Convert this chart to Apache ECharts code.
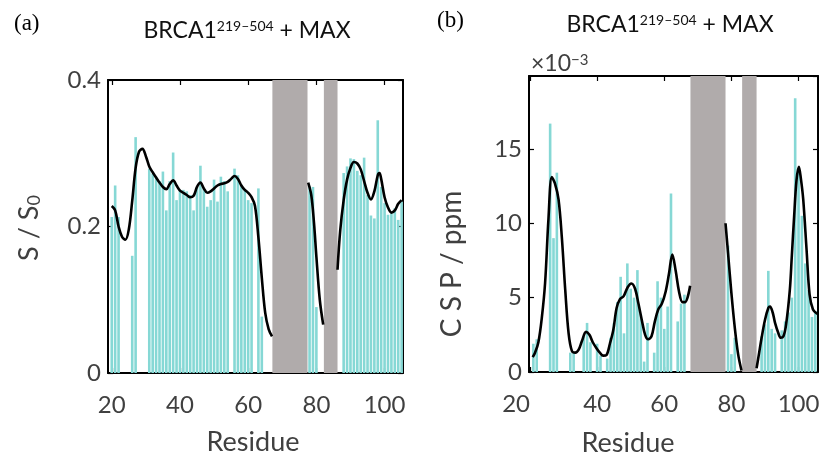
<!DOCTYPE html>
<html><head><meta charset="utf-8">
<script src="https://cdn.jsdelivr.net/npm/echarts@6/dist/echarts.min.js"></script>
<style>html,body{margin:0;padding:0;background:#fff}#c{width:824px;height:458px}</style>
</head><body><div id="c"></div>
<script>
// ---------- data ----------
const xTicks = [20, 40, 60, 80, 100];
// panel (a): S/S0 per residue
const resA = [20,21,22,26,27,31,32,33,34,35,36,37,38,39,40,41,42,43,44,45,46,47,48,49,50,51,52,53,54,56,57,58,59,60,61,63,64,78,79,80,88,89,90,91,92,93,94,95,96,97,98,99,100,101,102,103,104,105];
const valA = [0.213,0.256,0.213,0.160,0.322,0.279,0.272,0.268,0.262,0.275,0.222,0.262,0.301,0.236,0.250,0.250,0.248,0.243,0.222,0.254,0.283,0.252,0.227,0.236,0.264,0.234,0.268,0.262,0.248,0.279,0.270,0.257,0.250,0.236,0.232,0.252,0.077,0.255,0.254,0.090,0.273,0.282,0.293,0.292,0.276,0.270,0.294,0.243,0.215,0.211,0.345,0.254,0.232,0.216,0.218,0.225,0.209,0.234];
// smoothed profile (a), three segments
const curveA1 = [[20,0.228],[21,0.222],[22,0.200],[23,0.186],[24,0.182],[25,0.196],[26,0.235],[27,0.280],[28,0.302],[29,0.306],[30,0.296],[31,0.282],[32,0.274],[33,0.267],[34,0.260],[35,0.254],[36,0.251],[37,0.258],[38,0.263],[39,0.256],[40,0.249],[41,0.246],[42,0.243],[43,0.240],[44,0.242],[45,0.254],[46,0.260],[47,0.252],[48,0.246],[49,0.248],[50,0.252],[51,0.256],[52,0.258],[53,0.259],[54,0.261],[55,0.265],[56,0.269],[57,0.265],[58,0.256],[59,0.250],[60,0.246],[61,0.240],[62,0.228],[63,0.185],[64,0.130],[65,0.082],[66,0.060],[67,0.050]];
const curveA2 = [[77.6,0.260],[78.5,0.243],[79.3,0.205],[80,0.159],[81,0.100],[82,0.066]];
const curveA3 = [[86.2,0.141],[87,0.195],[88,0.236],[89,0.264],[90,0.280],[91,0.288],[92,0.286],[93,0.278],[94,0.262],[95,0.246],[96,0.237],[97,0.248],[98,0.270],[98.5,0.273],[99,0.265],[100,0.240],[101,0.226],[102,0.219],[103,0.222],[104,0.231],[105,0.236]];
const grayA = [[67.1,77.4],[82.2,86.2]];

// panel (b): CSP (x10^-3 ppm) per residue
const resB = [21,22,26,27,28,32,33,36,37,38,40,41,43,44,45,46,47,48,49,50,51,52,53,54,55,57,58,59,60,61,62,64,65,66,79,80,81,89,90,91,92,93,95,96,97,98,99,100,101,102,103,104,105];
const valB = [1.9,2.2,16.7,9.0,13.4,1.3,1.3,2.4,3.3,2.0,1.9,1.1,0.9,2.3,3.3,4.7,6.4,2.6,7.3,5.6,5.0,6.85,3.9,0.7,3.3,1.3,6.1,5.0,2.9,4.4,12.0,3.4,4.6,5.2,8.5,1.2,2.3,2.4,3.2,6.8,2.9,2.6,2.8,3.4,4.0,5.0,18.4,13.5,10.5,7.3,5.5,3.7,4.1];
const curveB1 = [[20.8,1.0],[21.5,1.3],[22.5,2.0],[23.5,3.6],[24.5,6.0],[25.5,10.3],[26.5,13.1],[27.4,12.7],[28.5,11.6],[29.5,9.0],[30.5,5.5],[31.5,2.6],[32.5,1.4],[33.5,1.3],[34.5,1.5],[35.5,2.1],[36.7,2.7],[37.7,2.5],[38.7,2.0],[39.8,1.6],[40.8,1.3],[41.8,1.1],[42.8,1.15],[43.8,1.9],[44.8,2.8],[45.8,4.3],[46.8,4.9],[47.9,5.1],[49.1,5.7],[50.2,5.95],[51.3,5.6],[52.3,4.6],[53.3,3.5],[54.3,2.5],[55.2,2.2],[56.2,2.4],[57.2,3.4],[58.2,4.2],[59.3,4.6],[60.4,5.4],[61.4,6.6],[62.4,7.9],[63.4,6.8],[64.4,5.4],[65.4,4.7],[66.2,4.7],[67.7,5.8]];
const curveB2 = [[78.25,10.0],[79,8.0],[80,5.3],[81,3.0],[82,1.2],[83,0.1]];
const curveB3 = [[87.5,0.25],[88.2,1.2],[89,2.3],[90,3.5],[91,4.3],[91.5,4.4],[92.3,4.0],[93,3.3],[94,2.6],[94.7,2.3],[95.5,2.4],[96.3,3.2],[97.4,5.5],[98,7.8],[98.7,10.5],[99.4,12.9],[100.1,13.8],[100.7,13.0],[101.4,11.6],[102.4,8.2],[103.3,5.2],[104.3,4.2],[105.6,3.9]];
const grayB = [[67.8,78.25],[83.2,87.5]];

// ---------- chart ----------
const FONT = 'Lato';
const LBL = '#404040';
const BAR = '#86d8d5';
const GRAY = '#b0abab';
const chart = echarts.init(document.getElementById('c'), null, {renderer: 'canvas'});

function xAx(grid, min, max, pos, labels, alignMin) {
  const lab = {show: labels, customValues: xTicks, fontSize: 24, color: LBL, margin: 20, fontFamily: FONT};
  if (alignMin) lab.alignMinLabel = alignMin;
  return {
    type: 'value', gridIndex: grid, min: min, max: max, position: pos,
    axisLine: {show: true, onZero: false, lineStyle: {color: '#000', width: 2}},
    axisTick: {show: true, inside: true, length: 5, customValues: xTicks, lineStyle: {color: '#000', width: 1.2}},
    axisLabel: lab,
    splitLine: {show: false}
  };
}
function yAx(grid, min, max, interval, pos, labels, fmt) {
  return {
    type: 'value', gridIndex: grid, min: min, max: max, interval: interval, position: pos,
    axisLine: {show: true, onZero: false, lineStyle: {color: '#000', width: 2}},
    axisTick: {show: true, inside: true, length: 5, lineStyle: {color: '#000', width: 1.2}},
    axisLabel: {show: labels, fontSize: 24, color: LBL, margin: 7, fontFamily: FONT, formatter: fmt, showMaxLabel: pos === 'left' && grid === 0},
    splitLine: {show: false}
  };
}
function curveSeries(pts, xi, yi) {
  return {type: 'line', xAxisIndex: xi, yAxisIndex: yi, data: pts, smooth: 0.35, showSymbol: false, silent: true, z: 5,
    lineStyle: {color: '#000', width: 2.6}};
}
function grayAreas(g) { return g.map(r => [{xAxis: r[0]}, {xAxis: r[1]}]); }

const option = {
  animation: false,
  backgroundColor: '#fff',
  grid: [
    {left: 108, top: 80, width: 295, height: 293},
    {left: 529, top: 76, width: 289, height: 296}
  ],
  xAxis: [
    xAx(0, 18.9, 105.4, 'bottom', true),
    xAx(0, 18.9, 105.4, 'top', false),
    xAx(1, 19.7, 105.8, 'bottom', true, 'right'),
    xAx(1, 19.7, 105.8, 'top', false)
  ],
  yAxis: [
    yAx(0, 0, 0.4, 0.2, 'left', true, v => v === 0 ? '0' : v.toFixed(1)),
    yAx(0, 0, 0.4, 0.2, 'right', false),
    yAx(1, 0, 19.9, 5, 'left', true, v => String(v)),
    yAx(1, 0, 19.9, 5, 'right', false)
  ],
  series: [
    {type: 'bar', xAxisIndex: 0, yAxisIndex: 0, barWidth: 2.6, silent: true,
     data: resA.map((r, i) => [r, valA[i]]), itemStyle: {color: BAR},
     markArea: {silent: true, itemStyle: {color: GRAY, opacity: 1}, data: grayAreas(grayA)}},
    curveSeries(curveA1, 0, 0), curveSeries(curveA2, 0, 0), curveSeries(curveA3, 0, 0),
    {type: 'bar', xAxisIndex: 2, yAxisIndex: 2, barWidth: 2.6, silent: true,
     data: resB.map((r, i) => [r, valB[i]]), itemStyle: {color: BAR},
     markArea: {silent: true, itemStyle: {color: GRAY, opacity: 1}, data: grayAreas(grayB)}},
    curveSeries(curveB1, 2, 2), curveSeries(curveB2, 2, 2), curveSeries(curveB3, 2, 2)
  ],
  graphic: [
    {type: 'text', left: 14, top: 12, style: {text: '(a)', font: '23px "Liberation Serif"', fill: '#000'}},
    {type: 'text', left: 437, top: 9, style: {text: '(b)', font: '23px "Liberation Serif"', fill: '#000'}},
    {type: 'text', x: 247, y: 31, style: {text: 'BRCA1{s|219–504} + MAX', align: 'center', verticalAlign: 'middle',
      fontFamily: FONT, fontSize: 23, fill: '#111',
      rich: {s: {fontSize: 14, fontFamily: FONT, fill: '#111', verticalAlign: 'top'}}}},
    {type: 'text', x: 670, y: 25, style: {text: 'BRCA1{s|219–504} + MAX', align: 'center', verticalAlign: 'middle',
      fontFamily: FONT, fontSize: 23, fill: '#111',
      rich: {s: {fontSize: 14, fontFamily: FONT, fill: '#111', verticalAlign: 'top'}}}},
    {type: 'text', x: 531, y: 64, style: {text: '×10{s|−3}', align: 'left', verticalAlign: 'middle',
      fontFamily: FONT, fontSize: 23, fill: LBL,
      rich: {s: {fontSize: 15, fontFamily: FONT, fill: LBL, verticalAlign: 'top'}}}},
    {type: 'text', x: 29, y: 228, rotation: Math.PI / 2, style: {text: 'S / S{b|0}', align: 'center', verticalAlign: 'middle',
      fontFamily: FONT, fontSize: 27, fill: LBL,
      rich: {b: {fontSize: 18, fontFamily: FONT, fill: LBL, verticalAlign: 'bottom', padding: [10, 0, 0, 0]}}}},
    {type: 'text', x: 452, y: 264, rotation: Math.PI / 2, style: {text: 'C S P / ppm', align: 'center', verticalAlign: 'middle',
      fontFamily: FONT, fontSize: 28, fill: LBL}},
    {type: 'text', x: 253, y: 442, style: {text: 'Residue', align: 'center', verticalAlign: 'middle',
      fontFamily: FONT, fontSize: 27, fill: LBL}},
    {type: 'text', x: 628, y: 443, style: {text: 'Residue', align: 'center', verticalAlign: 'middle',
      fontFamily: FONT, fontSize: 27, fill: LBL}}
  ]
};
chart.setOption(option);
</script></body></html>
